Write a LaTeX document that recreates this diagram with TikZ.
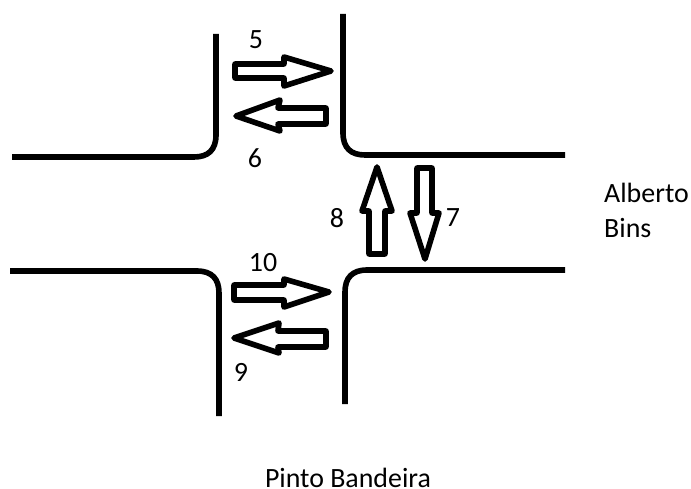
\documentclass[tikz,border=0pt]{standalone}
\usepackage{fontspec}
\setmainfont{Carlito}
\newcommand{\px}{0.0352778cm}
\tikzset{
  road/.style={line width=5.6bp,black,line cap=butt},
  arrowshape/.style={draw=black,line width=5.6bp,fill=white,line join=round},
  lbl/.style={font=\fontsize{28pt}{32pt}\selectfont,text=black,inner sep=0pt}
}
\begin{document}
\begin{tikzpicture}[x=\px,y=-\px]
\useasboundingbox (0,0) rectangle (691,489);
% roads
\coordinate (a1) at (216,34); \coordinate (a2) at (12,157);
\coordinate (b1) at (343,14); \coordinate (b2) at (565,155);
\coordinate (c1) at (10,271); \coordinate (c2) at (219,416);
\coordinate (d1) at (565,270); \coordinate (d2) at (345,404);
\draw[road] (a1) -- (216,135) .. controls (216,150) and (208,157) .. (194,157) -- (a2);
\draw[road] (b1) -- (343,133) .. controls (343,148) and (351,155) .. (365,155) -- (b2);
\draw[road] (c1) -- (197,271) .. controls (212,271) and (219,279) .. (219,293) -- (c2);
\draw[road] (d1) -- (367,270) .. controls (352,270) and (345,278) .. (345,292) -- (d2);
% arrows
\draw[arrowshape] (235,64) -- (284,64) -- (284,57) -- (331,71) -- (284,86) -- (284,78) -- (235,78) -- cycle;
\draw[arrowshape] (326,108) -- (278,108) -- (280,100) -- (236,116) -- (280,131) -- (278,124) -- (326,124) -- cycle;
\draw[arrowshape] (234,285) -- (284,285) -- (284,279) -- (329,292) -- (284,307) -- (284,300) -- (234,300) -- cycle;
\draw[arrowshape] (326,331) -- (278,331) -- (279,323) -- (234,338) -- (279,353) -- (278,347) -- (326,347) -- cycle;
\draw[arrowshape] (369,254) -- (369,211) -- (362,211) -- (377,167) -- (392,211) -- (385,211) -- (385,254) -- cycle;
\draw[arrowshape] (417,168) -- (417,213) -- (410,213) -- (425,259) -- (439,213) -- (432,213) -- (432,168) -- cycle;
% labels
\node[lbl] (n5) at (256,40) {5};
\node[lbl] (n6) at (255,158) {6};
\node[lbl] (n8) at (337,218) {8};
\node[lbl] (n7) at (453,218) {7};
\node[lbl] (n10) at (263,263) {10};
\node[lbl] (n9) at (241,372) {9};
\node[lbl,anchor=base west] (ab1) at (604,202) {Alberto};
\node[lbl,anchor=base west] (ab2) at (604,237) {Bins};
\node[lbl,anchor=base] (pb) at (348,487) {Pinto Bandeira};
\end{tikzpicture}
\end{document}
